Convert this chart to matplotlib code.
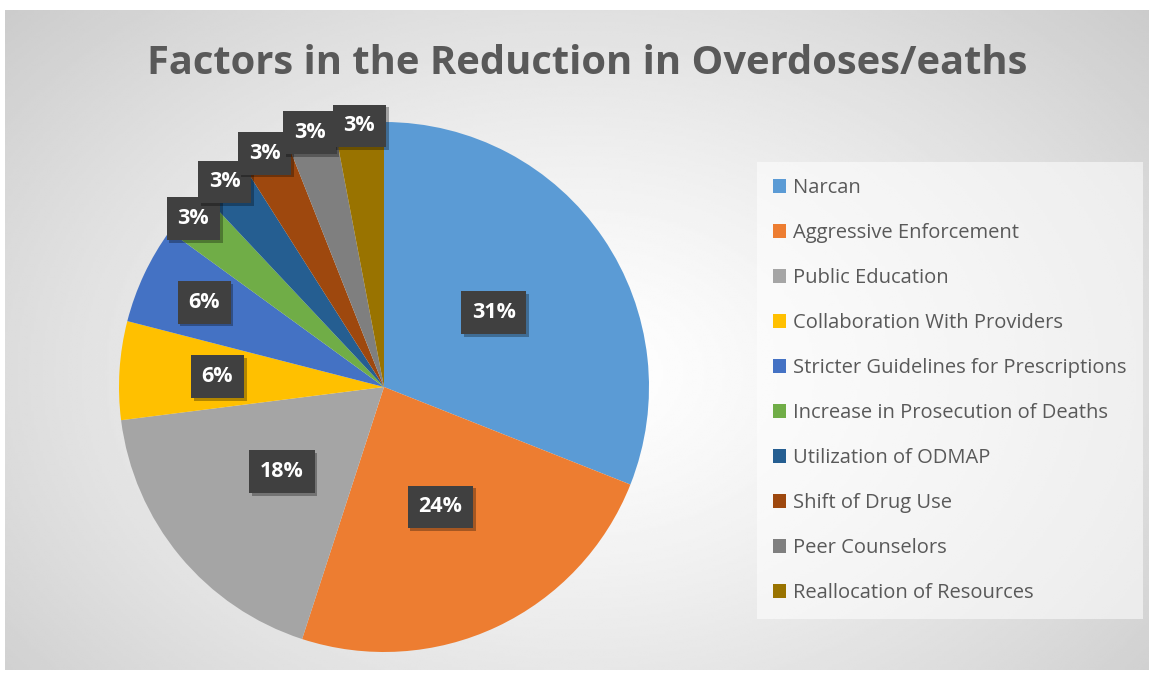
import numpy as np
import matplotlib
matplotlib.use("Agg")
import matplotlib.pyplot as plt
import matplotlib.patheffects as pe
from matplotlib.patches import Patch

# Données du graphique
categories = ["Narcan", "Aggressive Enforcement", "Public Education",
              "Collaboration With Providers", "Stricter Guidelines for Prescriptions",
              "Increase in Prosecution of Deaths", "Utilization of ODMAP",
              "Shift of Drug Use", "Peer Counselors", "Reallocation of Resources"]
values = [31, 24, 18, 6, 6, 3, 3, 3, 3, 3]
colors = ["#5B9BD5", "#ED7D31", "#A5A5A5", "#FFC000", "#4472C4",
          "#70AD47", "#255E91", "#9E480E", "#7F7F7F", "#997300"]
# distance des étiquettes au centre (fraction du rayon)
label_r = [0.5, 0.5, 0.5, 0.63, 0.75, 0.96, 0.98, 0.99, 1.0, 0.99]

W, H = 1149, 674
fig = plt.figure(figsize=(W / 100, H / 100), dpi=100, facecolor="white")

# Fond en dégradé radial
bg = fig.add_axes([5 / W, 4 / H, (W - 5) / W, (670 - 10) / H])
yy, xx = np.mgrid[0:1:300j, 0:1:500j]
r = np.sqrt(((xx - 0.5) / 0.5) ** 2 + ((yy - 0.55) / 0.6) ** 2)
grad = 1 - 0.22 * np.clip(r / 1.45, 0, 1) ** 1.3
bg.imshow(grad, cmap="gray", vmin=0, vmax=1, aspect="auto",
          extent=[0, 1, 0, 1], interpolation="bilinear")
bg.set_axis_off()

# Camembert
cx, cy, rad = 384, 387, 265
ax = fig.add_axes([(cx - rad) / W, (H - cy - rad) / H, 2 * rad / W, 2 * rad / H])
wedges, _ = ax.pie(values, colors=colors, startangle=90, counterclock=False,
                   radius=1, wedgeprops=dict(edgecolor="none"))
ax.set_xlim(-1, 1)
ax.set_ylim(-1, 1)

total = sum(values)
start = 90.0
for v, lr in zip(values, label_r):
    mid = np.deg2rad(start - v / total * 360 / 2)
    start -= v / total * 360
    t = ax.text(lr * np.cos(mid), lr * np.sin(mid), f"{v}%",
                ha="center", va="center", color="white", fontsize=15.5,
                fontweight="bold", family="Open Sans", zorder=5,
                bbox=dict(boxstyle="square,pad=0.5", fc="#404040", ec="none"))
    t.get_bbox_patch().set_path_effects(
        [pe.SimplePatchShadow(offset=(2, -2), shadow_rgbFace="black", alpha=0.3),
         pe.Normal()])

# Titre
fig.text(587 / W, 1 - 64 / H, "Factors in the Reduction in Overdoses/eaths",
         ha="center", va="center", fontsize=28.7, fontweight="bold",
         color="#595959", family="Open Sans")

# Légende
handles = [Patch(facecolor=c, edgecolor="none") for c in colors]
leg = fig.legend(handles, categories, loc="upper left",
                 bbox_to_anchor=(757 / W, 1 - 162 / H), frameon=True,
                 labelcolor="#595959", handlelength=0.65,
                 handleheight=0.65, handletextpad=0.35, labelspacing=1.24,
                 borderpad=0.8, borderaxespad=0, prop=dict(family="Open Sans", size=14.5))
leg.get_frame().set_facecolor("white")
leg.get_frame().set_alpha(0.55)
leg.get_frame().set_edgecolor("none")
leg.get_frame().set_boxstyle("square,pad=0")

fig.savefig("out.png", dpi=100, facecolor="white")
